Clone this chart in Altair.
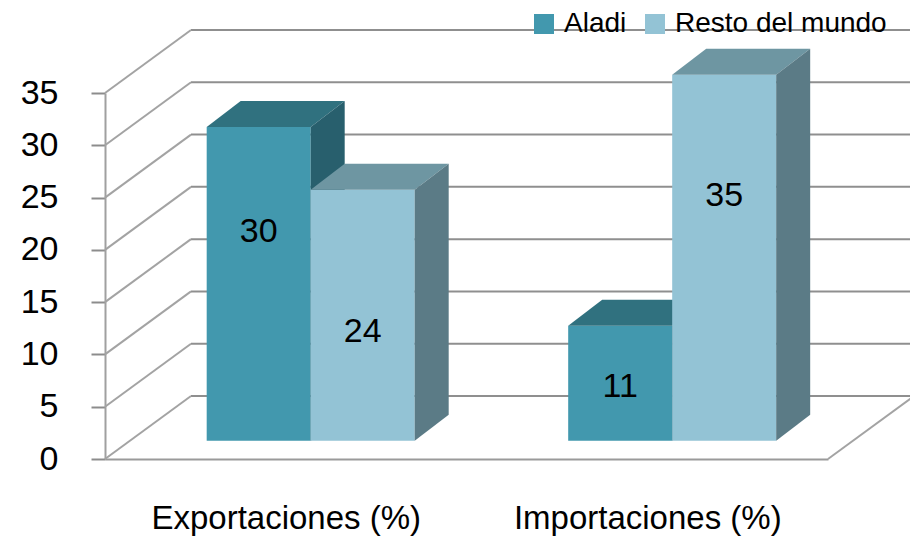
import altair as alt
import pandas as pd

# ---------------- data ----------------
categories = ["Exportaciones (%)", "Importaciones (%)"]
series = ["Aladi", "Resto del mundo"]
aladi = [30, 11]
resto = [24, 35]
y_ticks = [0, 5, 10, 15, 20, 25, 30, 35]

# ---------------- styles ----------------
front_colors = ["#4298AE", "#93C3D5"]
top_colors = ["#30717F", "#6E96A2"]
side_colors = ["#285F6D", "#5B7B86"]
# vertical position of each data label as a fraction of its bar height
label_frac = {"Aladi": [0.665, 0.467], "Resto del mundo": [0.433, 0.669]}
FONT = "Liberation Sans"

W, H = 723, 366          # front plot area (px)
YMAX = 35
PXY = H / YMAX
wall_dx = 86 / W         # depth of the 3D box, in x units
wall_dv = 63 / PXY       # depth of the 3D box, in y units
bar_f0 = 0.29            # bars start at this fraction of the depth
bar_dx = 34 / W          # bar depth in x units
bar_dv = 26 / PXY        # bar depth in y units
bar_w = 104 / W          # bar width in x units

values = {"Aladi": aladi, "Resto del mundo": resto}

# ---------------- derived tables ----------------
front_rows, top_rows, side_rows, label_rows = [], [], [], []
n_s = len(series)
for i, cat in enumerate(categories):
    center = (i + 0.5) / len(categories) + bar_f0 * wall_dx
    for j, s in enumerate(series):
        v = values[s][i]
        x0 = center - n_s * bar_w / 2 + j * bar_w
        x1 = x0 + bar_w
        base = bar_f0 * wall_dv
        top = base + v
        bid = f"{s}-{cat}"
        front_rows.append(dict(series=s, bar=bid, x0=x0, x1=x1, base=base, top=top))
        top_rows.append(dict(series=s, bar=bid, y=top, xa=x0, xb=x1))
        top_rows.append(dict(series=s, bar=bid, y=top + bar_dv, xa=x0 + bar_dx, xb=x1 + bar_dx))
        side_rows.append(dict(series=s, bar=bid, x=x1, ya=top, yb=base))
        side_rows.append(dict(series=s, bar=bid, x=x1 + bar_dx, ya=top + bar_dv, yb=base + bar_dv))
        label_rows.append(dict(series=s, x=(x0 + x1) / 2,
                               y=base + label_frac[s][i] * v, text=str(v)))

front_df = pd.DataFrame(front_rows)
top_df = pd.DataFrame(top_rows)
side_df = pd.DataFrame(side_rows)
label_df = pd.DataFrame(label_rows)

back_df = pd.DataFrame([dict(x=wall_dx, x2=1 + wall_dx, y=v + wall_dv, y2=v + wall_dv) for v in y_ticks])
diag_df = pd.DataFrame([dict(x=0, x2=wall_dx, y=v, y2=v + wall_dv) for v in y_ticks]
                       + [dict(x=1, x2=1 + wall_dx, y=0, y2=wall_dv)])

xs = alt.Scale(domain=[0, 1], nice=False, zero=False)
ys = alt.Scale(domain=[0, YMAX], nice=False, zero=False)

label_expr = f"datum.value < 0.5 ? '{categories[0]}' : '{categories[1]}'"

x_axis = alt.Axis(values=[0.25, 0.75], labelExpr=label_expr, ticks=False, grid=False,
                  domainColor="#9a9a9a", domainWidth=2, labelFont=FONT, labelFontSize=33,
                  labelColor="black", labelPadding=43, title=None, labelFlush=False,
                  labelOverlap=False, labelLimit=400)
y_axis = alt.Axis(values=y_ticks, grid=False, domainColor="#a0a0a0", domainWidth=2,
                  tickColor="#8c8c8c", tickWidth=2, tickSize=14, labelFont=FONT,
                  labelFontSize=34, labelColor="black", labelPadding=33, title=None)


def X(field, **kw):
    return alt.X(field, scale=xs, axis=x_axis, **kw)


def Y(field, **kw):
    return alt.Y(field, scale=ys, axis=y_axis, **kw)


back = alt.Chart(back_df).mark_rule(color="#8f8f8f", strokeWidth=2).encode(
    x=X("x:Q"), x2="x2:Q", y=Y("y:Q"), y2="y2:Q")

diag = alt.Chart(diag_df).mark_rule(color="#a3a3a3", strokeWidth=2).encode(
    x=X("x:Q"), x2="x2:Q", y=Y("y:Q"), y2="y2:Q")

legend = alt.Legend(orient="none", legendX=425, legendY=-83, direction="horizontal",
                    title=None, symbolType="square", symbolSize=400, symbolStrokeWidth=0,
                    labelFont=FONT, labelFontSize=28, labelColor="black", labelOffset=6,
                    labelLimit=400, columnPadding=14, padding=0, rowPadding=0)
color_scale = alt.Scale(domain=series, range=front_colors)

layers = [back, diag]
for j, s in enumerate(series):
    f = alt.Chart(front_df[front_df.series == s]).mark_rect().encode(
        x=X("x0:Q"), x2="x1:Q",
        y=Y("base:Q"), y2="top:Q",
        color=alt.Color("series:N", scale=color_scale, legend=legend))
    t = alt.Chart(top_df[top_df.series == s]).mark_area(
        orient="horizontal", color=top_colors[j]).encode(
        y=Y("y:Q"),
        x=X("xa:Q", stack=None), x2="xb:Q",
        detail="bar:N")
    sd = alt.Chart(side_df[side_df.series == s]).mark_area(color=side_colors[j]).encode(
        x=X("x:Q"),
        y=Y("ya:Q", stack=None), y2="yb:Q",
        detail="bar:N")
    layers += [f, t, sd]

labels = alt.Chart(label_df).mark_text(font=FONT, fontSize=34, color="black",
                                       align="center", baseline="middle").encode(
    x=X("x:Q"), y=Y("y:Q"), text="text:N")
layers.append(labels)

chart = alt.layer(*layers).properties(
    width=W, height=H,
    autosize=alt.AutoSizeParams(type="none"),
    padding={"left": 97, "top": 85, "right": 82, "bottom": 77},
    background="white",
).configure_view(stroke=None)

chart.save("out.html", embed_options={"renderer": "svg", "actions": False})
